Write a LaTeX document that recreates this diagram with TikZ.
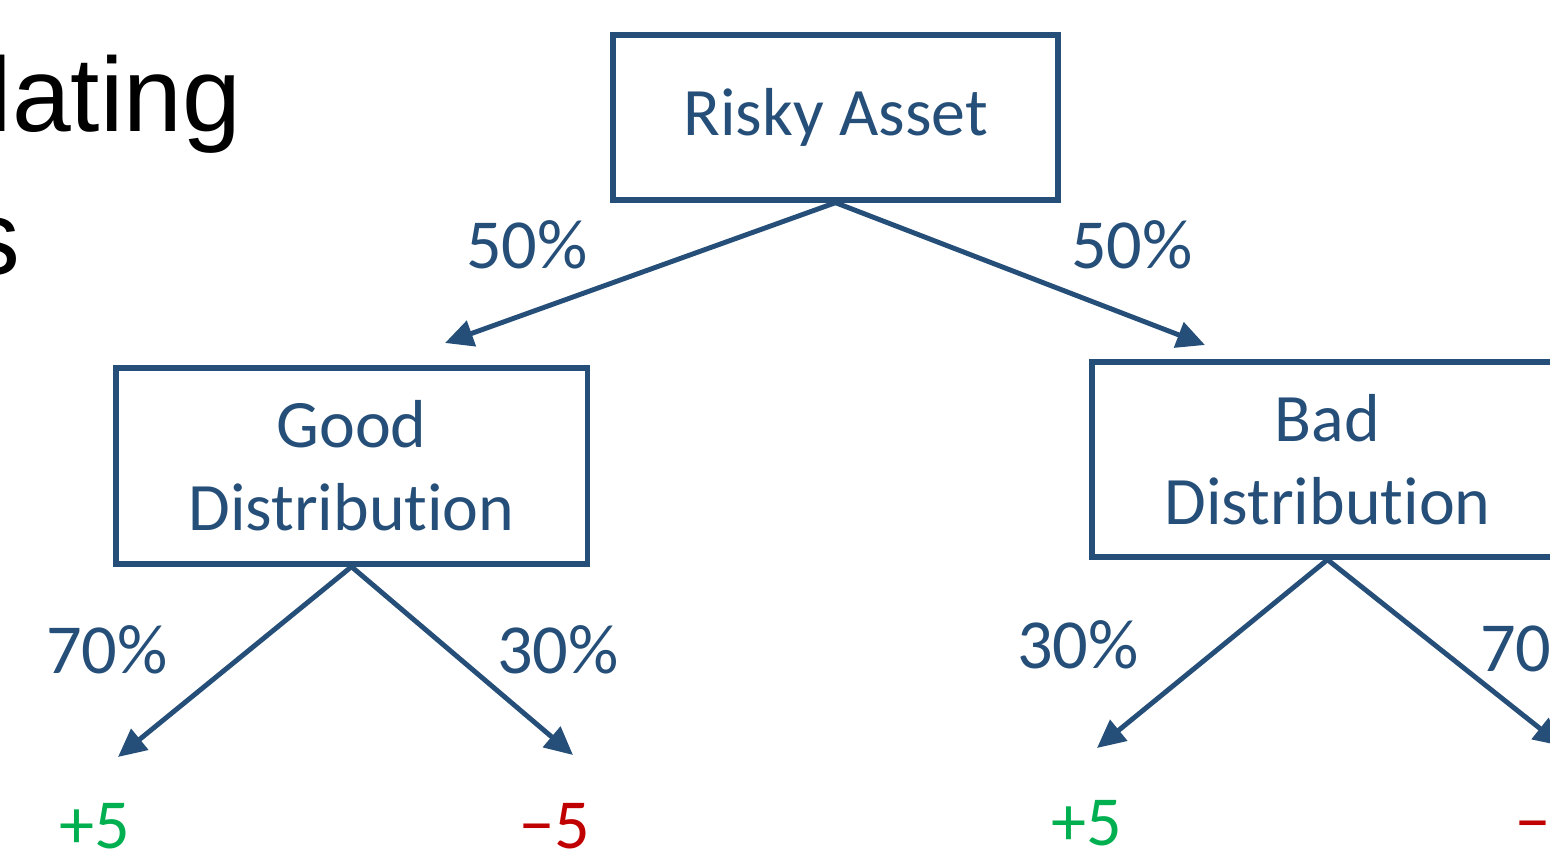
\documentclass[tikz,border=0pt]{standalone}
\usepackage{fontspec}
\setmainfont{Carlito}[Ligatures=NoCommon]
\newfontfamily\arialfont{Liberation Sans}
\usetikzlibrary{arrows.meta}

\definecolor{treeblue}{RGB}{37,79,120}
\definecolor{upgreen}{RGB}{0,176,80}
\definecolor{downred}{RGB}{192,0,0}

\tikzset{
  box/.style={draw=treeblue, line width=1.5pt, text=treeblue, align=center,
    font=\fontsize{19.3}{23.5}\selectfont, inner sep=0pt},
  prob/.style={text=treeblue, font=\fontsize{20}{24}\selectfont, inner sep=0pt},
  branch/.style={treeblue, line width=1.4pt, -{Triangle[length=8pt,width=7.5pt]}},
  payoff/.style={font=\fontsize{20}{24}\selectfont, inner sep=0pt}
}

\begin{document}
\begin{tikzpicture}[x=0.01cm, y=-0.01cm]
  \useasboundingbox (0, 0) rectangle (1550, 858);
  \clip (0, 0) rectangle (1550, 858);

  % title text cut off by the frame
  \node[anchor=base west, inner sep=0pt, font=\arialfont\fontsize{30}{36}\selectfont] (title1) at (-12, 132) {lating};
  \node[anchor=base east, inner sep=0pt, font=\arialfont\fontsize{30}{36}\selectfont] (title2) at (21, 275) {s};

  \node[box, minimum width=4.45cm, minimum height=1.65cm] (risky) at (835.5, 117.5) {Risky Asset};

  \node[box, minimum width=4.71cm, minimum height=1.96cm] (good) at (351.5, 466) {Good\\Distribution};
  \node[box, minimum width=4.71cm, minimum height=1.95cm] (bad) at (1327.5, 459.5) {Bad\\Distribution};

  \coordinate (rg) at (445, 343);
  \coordinate (rb) at (1205, 345);
  \draw[branch] (risky.south) -- (rg);
  \draw[branch] (risky.south) -- (rb);

  \node[prob] (p50l) at (527, 245) {50\%};
  \node[prob] (p50r) at (1132, 245) {50\%};

  \coordinate (gu) at (118, 757);
  \coordinate (gd) at (573, 755);
  \coordinate (bu) at (1097, 748);
  \coordinate (bd) at (1562, 746);
  \draw[branch] (good.south) -- (gu);
  \draw[branch] (good.south) -- (gd);
  \draw[branch] (bad.south) -- (bu);
  \draw[branch] (bad.south) -- (bd);

  \node[prob] (p70g) at (107, 650) {70\%};
  \node[prob] (p30g) at (558, 650) {30\%};
  \node[prob] (p30b) at (1078, 645) {30\%};
  \node[prob] (p70b) at (1541, 648) {70\%};

  \node[payoff, text=upgreen] (wg) at (95, 826) {+5};
  \node[payoff, text=downred] (lg) at (555, 826) {−5};
  \node[payoff, text=upgreen] (wb) at (1087, 823) {+5};
  \node[payoff, text=downred] (lb) at (1551, 823) {−5};
\end{tikzpicture}
\end{document}
